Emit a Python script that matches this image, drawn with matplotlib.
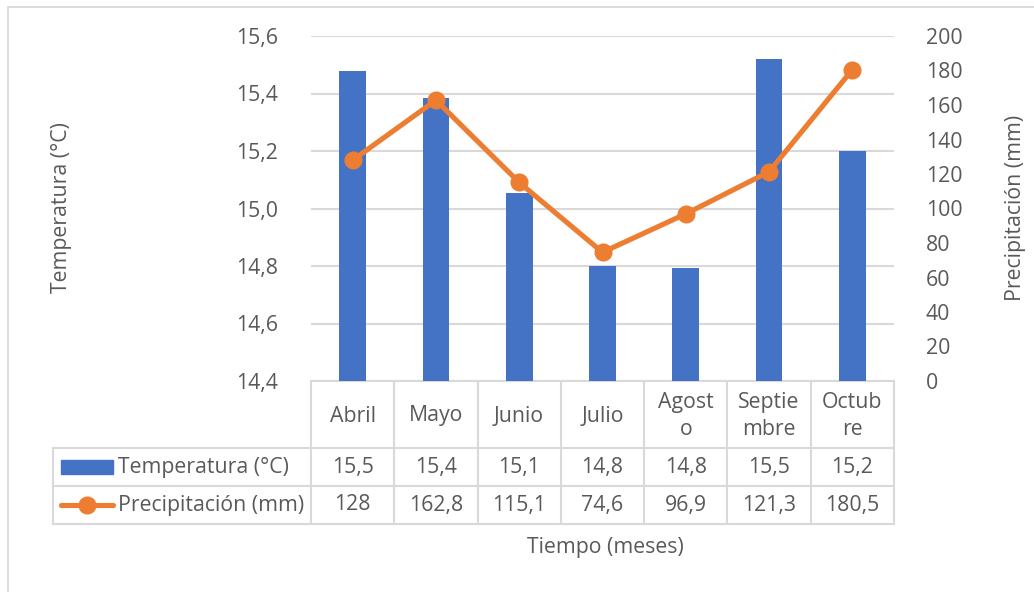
import matplotlib
matplotlib.use("Agg")
import matplotlib.pyplot as plt
from matplotlib.transforms import blended_transform_factory
from matplotlib.patches import Rectangle
from matplotlib.lines import Line2D

plt.rcParams['font.family'] = ['Open Sans', 'DejaVu Sans']

# ---- data ----
categories = ["Abril", "Mayo", "Junio", "Julio", "Agosto", "Septiembre", "Octubre"]
category_labels = ["Abril", "Mayo", "Junio", "Julio", "Agost\no", "Septie\nmbre", "Octub\nre"]
temperatura = [15.478, 15.384, 15.054, 14.80, 14.793, 15.52, 15.20]
precipitacion = [128, 162.8, 115.1, 74.6, 96.9, 121.3, 180.5]
temp_ticks = [14.4, 14.6, 14.8, 15.0, 15.2, 15.4, 15.6]
prec_ticks = [0, 20, 40, 60, 80, 100, 120, 140, 160, 180, 200]
series_names = ["Temperatura (°C)", "Precipitación (mm)"]

BLUE = "#4472C4"
ORANGE = "#ED7D31"
GRID = "#D9D9D9"
TXT = "#595959"
FS = 15.3

W, H = 1034, 592
fig = plt.figure(figsize=(W / 100, H / 100), dpi=100)

def fx(px):
    return px / W

def fy(py):
    return 1 - py / H

# outer chart border
fig.patches.append(Rectangle((fx(8), fy(900)), 2, fy(7) - fy(900), transform=fig.transFigure,
                             fill=False, edgecolor=GRID, lw=1.3))

L, R, T, B = 311, 894, 36, 381
ax = fig.add_axes([fx(L), fy(B), fx(R) - fx(L), fy(T) - fy(B)])
ax2 = ax.twinx()

x = list(range(len(categories)))
ax.bar(x, temperatura, width=0.32, color=BLUE, zorder=2, bottom=0)
ax.set_ylim(temp_ticks[0], temp_ticks[-1])
ax.set_xlim(-0.5, len(categories) - 0.5)
ax.set_yticks(temp_ticks)
ax.set_yticklabels([f"{v:.1f}".replace(".", ",") for v in temp_ticks])
ax.yaxis.grid(True, color=GRID, lw=1.5, zorder=0)
ax.set_axisbelow(True)
ax.set_xticks([])
ax.tick_params(axis='y', length=0, pad=24, labelsize=FS, labelcolor=TXT)

ax2.plot(x, precipitacion, color=ORANGE, lw=3.7, marker='o', markersize=12,
         solid_capstyle='round', zorder=3)
ax2.set_ylim(prec_ticks[0], prec_ticks[-1])
ax2.set_yticks(prec_ticks)
ax2.set_yticklabels([str(v) for v in prec_ticks])
ax2.tick_params(axis='y', length=0, pad=23, labelsize=FS, labelcolor=TXT)
for a in (ax, ax2):
    for s in a.spines.values():
        s.set_visible(False)

# ---- data table below the plot ----
hpx = B - T
row_edges_px = [0, 67, 105, 143]
row_edges = [-v / hpx for v in row_edges_px]
trans = blended_transform_factory(ax.transData, ax.transAxes)
leg_left = (53 - L) / (R - L)
lkw = dict(color=GRID, lw=1.5, clip_on=False, zorder=1)

# horizontal lines
ax.plot([-0.5, len(categories) - 0.5], [0, 0], transform=trans, **lkw)
for yv in row_edges[1:]:
    ax.plot([leg_left, 1], [yv, yv], transform=ax.transAxes, **lkw)
# vertical lines
for i in range(len(categories) + 1):
    ax.plot([i - 0.5, i - 0.5], [0, row_edges[-1]], transform=trans, **lkw)
ax.plot([leg_left, leg_left], [row_edges[1], row_edges[-1]], transform=ax.transAxes, **lkw)

# header
hy = (row_edges[0] + row_edges[1]) / 2 - 1.5 / hpx
for i, lab in enumerate(category_labels):
    ax.text(i, hy, lab, transform=trans, ha='center', va='center', fontsize=FS,
            color=TXT, linespacing=1.4)

# rows
rows = [[f"{v:.1f}".replace(".", ",") for v in temperatura],
        [f"{v:g}".replace(".", ",") for v in precipitacion]]
for r, vals in enumerate(rows):
    yc = (row_edges[r + 1] + row_edges[r + 2]) / 2
    for i, s in enumerate(vals):
        ax.text(i, yc, s, transform=trans, ha='center', va='center', fontsize=FS, color=TXT)
    ax.text((118 - L) / (R - L), yc, series_names[r], transform=ax.transAxes,
            ha='left', va='center', fontsize=FS, color=TXT)

# legend keys
y1 = (row_edges[1] + row_edges[2]) / 2
ax.add_patch(Rectangle(((61 - L) / (R - L), y1 - 7 / hpx), 52 / (R - L), 14 / hpx,
                       transform=ax.transAxes, color=BLUE, clip_on=False))
y2 = (row_edges[2] + row_edges[3]) / 2
ax.add_line(Line2D([(61 - L) / (R - L), (113 - L) / (R - L)], [y2, y2], transform=ax.transAxes,
                   color=ORANGE, lw=3.7, marker=None, solid_capstyle='round', clip_on=False))
ax.add_line(Line2D([(87 - L) / (R - L)], [y2], transform=ax.transAxes, color=ORANGE,
                   marker='o', markersize=12, clip_on=False))

# axis titles
fig.text(fx(61), fy(208), "Temperatura (°C)", rotation=90, ha='center', va='center',
         fontsize=FS, color=TXT)
fig.text(fx(1015), fy(208), "Precipitación (mm)", rotation=90, ha='center', va='center',
         fontsize=FS, color=TXT)
fig.text(fx(605), fy(547), "Tiempo (meses)", ha='center', va='center', fontsize=FS, color=TXT)

fig.savefig("out.png", dpi=100)
